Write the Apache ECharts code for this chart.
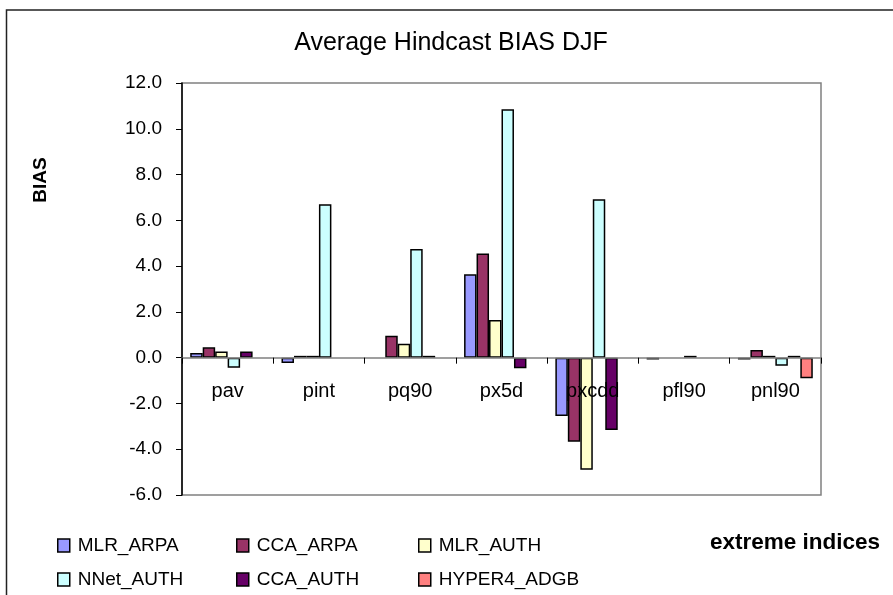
<!DOCTYPE html>
<html>
<head>
<meta charset="utf-8">
<script src="https://cdn.jsdelivr.net/npm/echarts@6/dist/echarts.min.js"></script>
<style>
html,body{margin:0;padding:0;background:#fff;}
#chart{width:893px;height:595px;}
</style>
</head>
<body>
<div id="chart"></div>
<script>
const categories = ['pav', 'pint', 'pq90', 'px5d', 'pxcdd', 'pfl90', 'pnl90'];
const yTicks = [-6, -4, -2, 0, 2, 4, 6, 8, 10, 12];
const seriesNames = ['MLR_ARPA', 'CCA_ARPA', 'MLR_AUTH', 'NNet_AUTH', 'CCA_AUTH', 'HYPER4_ADGB'];
const MLR_ARPA    = [0.20, -0.23, null, 3.64, -2.55, -0.08, -0.08];
const CCA_ARPA    = [0.45, 0.08, 0.96, 4.55, -3.67, null, 0.33];
const MLR_AUTH    = [0.27, 0.08, 0.61, 1.65, -4.90, null, 0.08];
const NNet_AUTH   = [-0.44, 6.70, 4.75, 10.85, 6.92, 0.08, -0.35];
const CCA_AUTH    = [0.27, null, 0.08, -0.46, -3.16, null, 0.08];
const HYPER4_ADGB = [null, null, null, null, null, null, -0.90];
const seriesData = [MLR_ARPA, CCA_ARPA, MLR_AUTH, NNet_AUTH, CCA_AUTH, HYPER4_ADGB];
const colors = ['#9999FF', '#993366', '#FFFFCC', '#CCFFFF', '#660066', '#FF8080'];

const font = '"Liberation Sans", Arial, sans-serif';
const legendPos = [[52, 531], [231, 531], [413, 531], [52, 565], [231, 565], [413, 565]];

const gridTop = 83, gridBottom = 100, chartH = 595;
const yMin = -6, yMax = 12;
const plotH = chartH - gridTop - gridBottom;
const zeroOffset = -(plotH * (0 - yMin) / (yMax - yMin));

const chart = echarts.init(document.getElementById('chart'));
chart.setOption({
  animation: false,
  backgroundColor: '#fff',
  textStyle: { fontFamily: font },
  grid: { left: 182, right: 72, top: gridTop, bottom: gridBottom, show: true, borderColor: '#808080', borderWidth: 1.5, backgroundColor: 'transparent' },
  legend: seriesNames.map((n, i) => ({
    data: [n], left: legendPos[i][0], top: legendPos[i][1], orient: 'horizontal',
    icon: 'rect', itemWidth: 12, itemHeight: 13, itemGap: 6,
    itemStyle: { borderColor: '#000', borderWidth: 1.5 },
    textStyle: { fontFamily: font, fontSize: 19, color: '#000', padding: [0, 0, 0, 3] },
    selectedMode: false
  })),
  xAxis: {
    type: 'category', data: categories, z: 10,
    offset: zeroOffset,
    axisLine: { onZero: false, lineStyle: { color: '#808080', width: 1.5 } },
    axisTick: { show: true, length: 6, lineStyle: { color: '#000' } },
    axisLabel: { fontFamily: font, fontSize: 20, color: '#000', margin: 24 },
    splitLine: { show: false }
  },
  yAxis: {
    type: 'value', min: yMin, max: yMax, interval: 2,
    axisLine: { show: true, onZero: false, lineStyle: { color: '#000', width: 1.5 } },
    axisTick: { show: true, length: 6, lineStyle: { color: '#000' } },
    axisLabel: { fontFamily: font, fontSize: 19, color: '#000', margin: 20,
      formatter: v => yTicks.includes(v) ? v.toFixed(1) : '' },
    splitLine: { show: false }
  },
  series: seriesNames.map((n, i) => ({
    name: n, type: 'bar', data: seriesData[i],
    barGap: '0%', barCategoryGap: '18%',
    itemStyle: { color: colors[i], borderColor: '#000', borderWidth: 1.5 }
  })),
  graphic: [
    { type: 'rect', shape: { x: 6.5, y: 10, width: 900, height: 600 }, style: { fill: 'none', stroke: '#222', lineWidth: 1.5 }, z: -1, silent: true },
    { type: 'text', x: 451, y: 43, style: { text: 'Average Hindcast BIAS DJF', font: '25px ' + font, fill: '#000', textAlign: 'center', textVerticalAlign: 'middle' } },
    { type: 'text', x: 41, y: 180, rotation: Math.PI / 2, style: { text: 'BIAS', font: 'bold 19px ' + font, fill: '#000', textAlign: 'center', textVerticalAlign: 'middle' } },
    { type: 'text', x: 880, y: 543, style: { text: 'extreme indices', font: 'bold 22.5px ' + font, fill: '#000', textAlign: 'right', textVerticalAlign: 'middle' } }
  ]
});
</script>
</body>
</html>
